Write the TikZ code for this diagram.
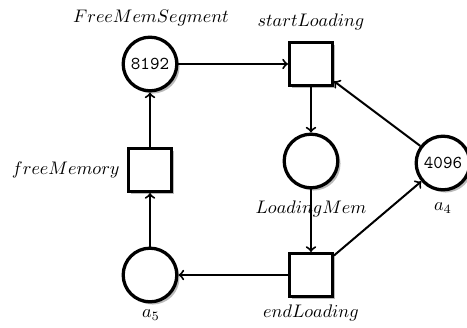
\documentclass[tikz,border=0pt]{standalone}
\usetikzlibrary{shadows,arrows}
\begin{document}
\begin{tikzpicture}[x=0.55pt,y=-0.55pt,
  place/.style={circle,draw,line width=1.8pt,fill=white,minimum size=29.5pt,inner sep=0pt,
    drop shadow={shadow xshift=1.5pt,shadow yshift=-1.5pt,fill=black!45,opacity=0.6}},
  transition/.style={rectangle,draw,line width=1.8pt,fill=white,minimum size=23.5pt,inner sep=0pt,
    drop shadow={shadow xshift=1.5pt,shadow yshift=-1.5pt,fill=black!45,opacity=0.6}},
  arc/.style={->,line width=1.1pt,>=to},
  lbl/.style={inner sep=0pt,font=\fontsize{10.4}{12}\selectfont}]
\useasboundingbox (0,0) rectangle (467,327);
\node[place] (fms) at (150,64) {\texttt{8192}};
\node[transition] (sl) at (311,64) {};
\node[place] (lm) at (311,161) {};
\node[place] (a4) at (443,163) {\texttt{4096}};
\node[transition] (fm) at (150,170) {};
\node[place] (a5) at (150,275) {};
\node[transition] (el) at (311,275) {};
\node[lbl] (tfms) at (151,18) {$FreeMemSegment$};
\node[lbl] (tsl) at (311,22) {$startLoading$};
\node[lbl] (tlm) at (311,209) {$LoadingMem$};
\node[lbl] (ta4) at (443,208) {$a_4$};
\node[lbl,anchor=east] (tfm) at (120,170) {$freeMemory$};
\node[lbl] (ta5) at (151,315) {$a_5$};
\node[lbl] (tel) at (311,313) {$endLoading$};
\draw[arc] (fms) -- (sl);
\draw[arc] (sl) -- (lm);
\draw[arc] (lm) -- (el);
\draw[arc] (el) -- (a5);
\draw[arc] (el) -- (a4);
\draw[arc] (a4) -- (sl);
\draw[arc] (a5) -- (fm);
\draw[arc] (fm) -- (fms);
\end{tikzpicture}
\end{document}
